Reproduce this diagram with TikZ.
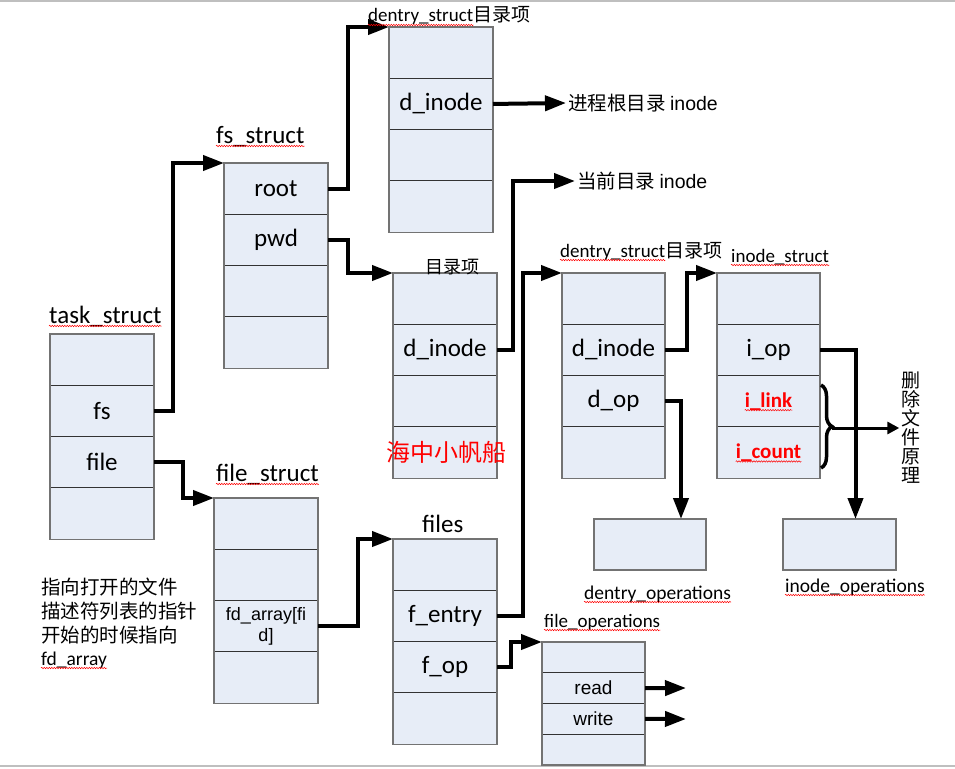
\documentclass[tikz,border=0pt]{standalone}
\usepackage{fontspec}
\setmainfont{Carlito}
\newfontfamily\arial{Liberation Sans}
\newfontfamily\cjk{Noto Sans CJK SC}
\usetikzlibrary{arrows.meta,positioning,decorations.pathreplacing,decorations.pathmorphing}
\definecolor{boxblue}{RGB}{231,237,247}
\def\fsz#1{\fontsize{#1}{#1}\selectfont}

\begin{document}
\begin{tikzpicture}[x=1pt, y=-1pt,
		cell/.style={draw=black!80, line width=0.9pt, fill=boxblue, minimum width=104pt, minimum height=51.3pt, inner sep=0pt, outer sep=0pt, anchor=north west, font=\fsz{25}},
		frame/.style={draw=black!55, line width=1.4pt},
		lbl/.style={inner sep=0pt, anchor=base west},
		link/.style={line width=4pt, -{Triangle[length=21pt,width=15pt]}},
		brc/.style={decorate, decoration={brace, amplitude=11pt}, line width=3.5pt},
		squig/.style={red, line width=0.5pt, decorate, decoration={snake, amplitude=0.7pt, segment length=2.5pt}}]
		%%%%% START %%%%%
		
		\useasboundingbox (0,0) rectangle (955,768);
		\draw[black!25, line width=1.5pt] (0,1) -- (955,1);
		\draw[black!25, line width=1.5pt] (0,766) -- (955,766);
		
		% task_struct
		\node[cell] (tsk1) at (50,334) {};
		\node[cell, below=0pt of tsk1] (tsk2) {fs};
		\node[cell, below=0pt of tsk2] (tsk3) {file};
		\node[cell, below=0pt of tsk3] (tsk4) {};
		\draw[frame] (tsk1.north west) rectangle (tsk4.south east);
		\node[lbl, font=\fsz{25}] (tsklbl) at (49,323) {task\_struct};
		
		% fs_struct
		\node[cell] (fs1) at (224,163) {root};
		\node[cell, below=0pt of fs1] (fs2) {pwd};
		\node[cell, below=0pt of fs2] (fs3) {};
		\node[cell, below=0pt of fs3] (fs4) {};
		\draw[frame] (fs1.north west) rectangle (fs4.south east);
		\node[lbl, font=\fsz{25}] (fslbl) at (216,143) {fs\_struct};
		
		% dentry of the root
		\node[cell] (dtop1) at (389,27) {};
		\node[cell, below=0pt of dtop1] (dtop2) {d\_inode};
		\node[cell, below=0pt of dtop2] (dtop3) {};
		\node[cell, below=0pt of dtop3] (dtop4) {};
		\draw[frame] (dtop1.north west) rectangle (dtop4.south east);
		\node[lbl, font=\fsz{19}] (dtoplbl) at (368,22) {dentry\_struct{\cjk 目录项}};
		
		% dentry of pwd
		\node[cell] (dmid1) at (393,273) {};
		\node[cell, below=0pt of dmid1] (dmid2) {d\_inode};
		\node[cell, below=0pt of dmid2] (dmid3) {};
		\node[cell, below=0pt of dmid3] (dmid4) {};
		\draw[frame] (dmid1.north west) rectangle (dmid4.south east);
		\node[lbl, font=\cjk\fsz{18}] (dmidlbl) at (425,273) {目录项};
		
		% dentry of the file
		\node[cell, minimum width=103pt] (dr1) at (562,273) {};
		\node[cell, minimum width=103pt, below=0pt of dr1] (dr2) {d\_inode};
		\node[cell, minimum width=103pt, below=0pt of dr2] (dr3) {d\_op};
		\node[cell, minimum width=103pt, below=0pt of dr3] (dr4) {};
		\draw[frame] (dr1.north west) rectangle (dr4.south east);
		\node[lbl, font=\fsz{19}] (drlbl) at (560,257) {dentry\_struct{\cjk 目录项}};
		
		% inode_struct
		\node[cell, minimum width=103pt] (ino1) at (717,273) {};
		\node[cell, minimum width=103pt, below=0pt of ino1] (ino2) {i\_op};
		\node[cell, minimum width=103pt, below=0pt of ino2] (ino3) {};
		\node[cell, minimum width=103pt, below=0pt of ino3] (ino4) {};
		\draw[frame] (ino1.north west) rectangle (ino4.south east);
		\node[inner sep=0pt, text=red, font=\bfseries\fsz{21}] (ilink) at (ino3.center) {i\_link};
		\node[inner sep=0pt, text=red, font=\bfseries\fsz{21}] (icount) at (ino4.center) {i\_count};
		\node[lbl, font=\fsz{19}] (inolbl) at (731,262) {inode\_struct};
		
		% file_struct
		\node[cell] (fst1) at (214,498) {};
		\node[cell, below=0pt of fst1] (fst2) {};
		\node[cell, below=0pt of fst2, align=center, font=\arial\fontsize{18}{21}\selectfont] (fst3) {fd\_array[fi\\d]};
		\node[cell, below=0pt of fst3] (fst4) {};
		\draw[frame] (fst1.north west) rectangle (fst4.south east);
		\node[lbl, font=\fsz{25}] (fstlbl) at (216,481) {file\_struct};
		
		% files
		\node[cell] (fil1) at (393,539) {};
		\node[cell, below=0pt of fil1] (fil2) {f\_entry};
		\node[cell, below=0pt of fil2] (fil3) {f\_op};
		\node[cell, below=0pt of fil3] (fil4) {};
		\draw[frame] (fil1.north west) rectangle (fil4.south east);
		\node[lbl, font=\fsz{25}] (fillbl) at (422,532) {files};
		
		% file_operations
		\node[cell, minimum width=103pt, minimum height=30.75pt, font=\arial\fsz{19}] (fop1) at (542,642) {};
		\node[cell, minimum width=103pt, minimum height=30.75pt, font=\arial\fsz{19}, below=0pt of fop1] (fop2) {read};
		\node[cell, minimum width=103pt, minimum height=30.75pt, font=\arial\fsz{19}, below=0pt of fop2] (fop3) {write};
		\node[cell, minimum width=103pt, minimum height=30.75pt, below=0pt of fop3] (fop4) {};
		\draw[frame] (fop1.north west) rectangle (fop4.south east);
		\node[lbl, font=\fsz{19}] (foplbl) at (544,627) {file\_operations};
		
		% operations tables
		\node[cell, frame, minimum width=112pt, minimum height=51pt] (dops) at (594,519) {};
		\node[lbl, font=\fsz{19.5}] (dopslbl) at (584,599) {dentry\_operations};
		\node[cell, frame, minimum width=113pt, minimum height=51pt] (iops) at (783,519) {};
		\node[lbl, font=\fsz{19.5}] (iopslbl) at (785,592) {inode\_operations};
		
		% free texts
		\node[anchor=west, inner sep=2pt, font=\fsz{19.5}] (rootino) at (566,103) {{\cjk 进程根目录} {\arial inode}};
		\node[anchor=west, inner sep=2pt, font=\fsz{19.5}] (curino) at (575,181) {{\cjk 当前目录} {\arial inode}};
		\node[lbl, text=red, font=\cjk\fsz{24}] (mark) at (386,461) {海中小帆船};
		\node[lbl, font=\cjk\fsz{19.5}] (note1) at (41,594) {指向打开的文件};
		\node[lbl, font=\cjk\fsz{19.5}] (note2) at (41,618) {描述符列表的指针};
		\node[lbl, font=\cjk\fsz{19.5}] (note3) at (41,642) {开始的时候指向};
		\node[lbl, font=\fsz{19.5}] (note4) at (41,665) {fd\_array};
		\node[align=center, inner sep=2pt, font=\cjk\fsz{19}] (del) at (911,428) {删\\除\\文\\件\\原\\理};
		
		% connectors
		\draw[link] (tsk2.east) -- ++(19,0) |- (fs1.north west);
		\draw[link] (tsk3.east) -- ++(29,0) |- (fst1.north west);
		\draw[link] (fs1.east) -- ++(20,0) |- (dtop1.north west);
		\draw[link] (fs2.east) -- ++(20,0) |- (dmid1.north west);
		\draw[link] (dtop2.east) -- (rootino.west);
		\draw[link] (dmid2.east) -- ++(16,0) |- (curino.west);
		\draw[link] (fst3.east) -- ++(40,0) |- (fil1.north west);
		\draw[link] (fil2.east) -- ++(26,0) |- (dr1.north west);
		\draw[link] (fil3.east) -- ++(14,0) |- (fop1.north west);
		\draw[link] (dr2.east) -- ++(22,0) |- (ino1.north west);
		\draw[link] (dr3.east) -| ([xshift=31pt]dops.north);
		\draw[link] (ino2.east) -| ([xshift=16pt]iops.north);
		\coordinate (readend) at (686,688);
		\coordinate (writeend) at (686,719);
		\draw[link] (fop2.east) -- (readend);
		\draw[link] (fop3.east) -- (writeend);
		
		% brace over i_link and i_count
		\coordinate (bracetop) at (821,385);
		\coordinate (bracebot) at (821,468);
		\coordinate (bracetip) at (832,428);
		\draw[brc] (bracetop) -- (bracebot);
		\draw[line width=3pt, -{Triangle[length=12pt,width=12pt]}] (bracetip) -- (del.west);
		
		% spell check marks
		\draw[squig] ([yshift=-3pt]tsklbl.base west) -- ([yshift=-3pt]tsklbl.base east);
		\draw[squig] ([yshift=-3pt]fslbl.base west) -- ([yshift=-3pt]fslbl.base east);
		\draw[squig] ([yshift=-3pt]dtoplbl.base west) -- ([xshift=-57pt,yshift=-3pt]dtoplbl.base east);
		\draw[squig] ([yshift=-3pt]drlbl.base west) -- ([xshift=-57pt,yshift=-3pt]drlbl.base east);
		\draw[squig] ([yshift=-3pt]inolbl.base west) -- ([yshift=-3pt]inolbl.base east);
		\draw[squig] ([yshift=-3pt]fstlbl.base west) -- ([yshift=-3pt]fstlbl.base east);
		\draw[squig] ([yshift=-3pt]foplbl.base west) -- ([yshift=-3pt]foplbl.base east);
		\draw[squig] ([yshift=-3pt]dopslbl.base west) -- ([yshift=-3pt]dopslbl.base east);
		\draw[squig] ([yshift=-3pt]iopslbl.base west) -- ([yshift=-3pt]iopslbl.base east);
		\draw[squig] ([yshift=-3pt]note4.base west) -- ([yshift=-3pt]note4.base east);
		\draw[squig] ([yshift=-3pt]ilink.base west) -- ([yshift=-3pt]ilink.base east);
		\draw[squig] ([yshift=-3pt]icount.base west) -- ([yshift=-3pt]icount.base east);
		
		%%%%% END %%%%%
	\end{tikzpicture}
\end{document}
